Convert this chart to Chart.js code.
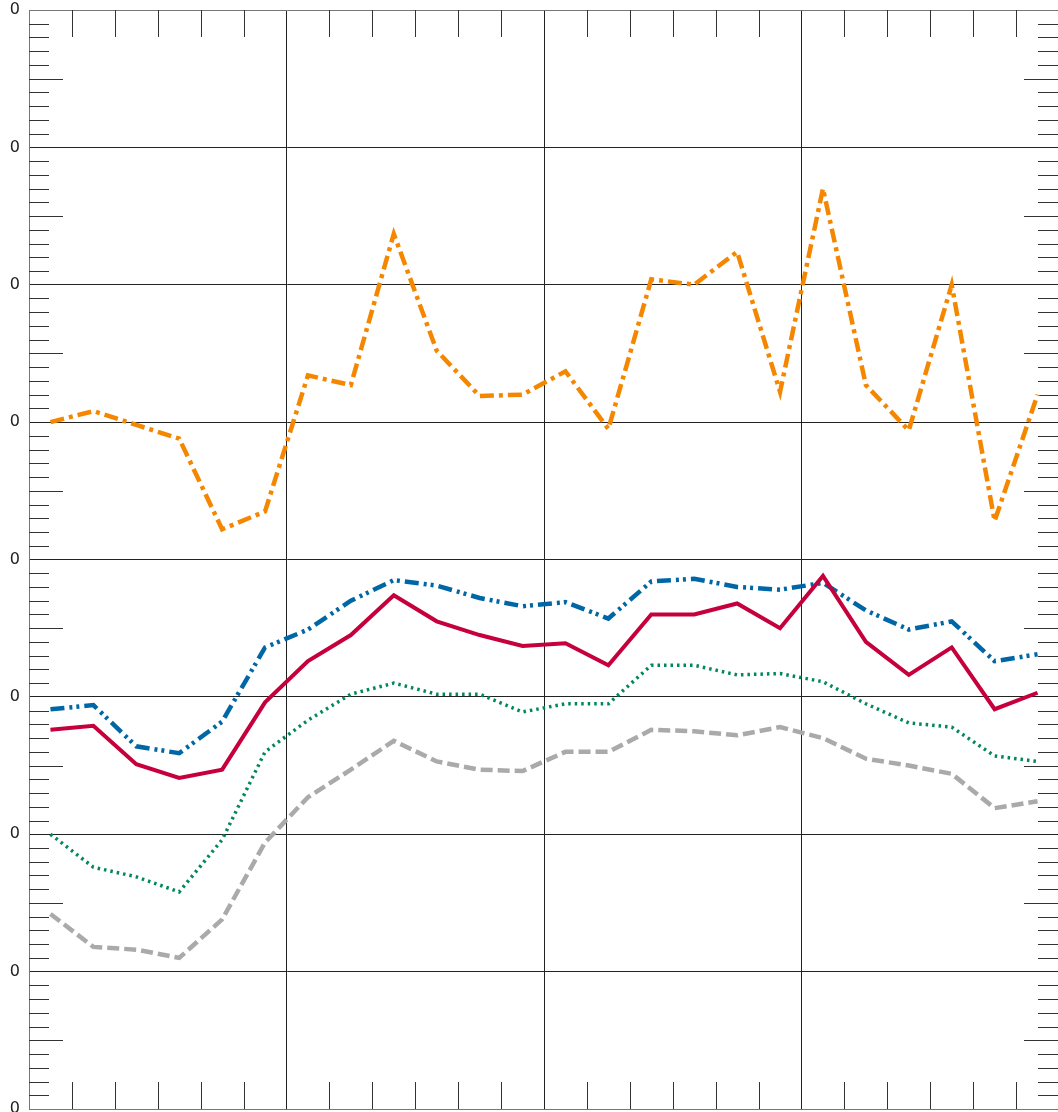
<!DOCTYPE html>
<html>
<head>
<meta charset="utf-8">
<script src="https://cdn.jsdelivr.net/npm/chart.js@4/dist/chart.umd.min.js"></script>
<style>
  html, body { margin: 0; padding: 0; background: #fff; overflow: hidden; }
  canvas { display: block; }
</style>
</head>
<body>
<canvas id="chart" width="1059" height="1112"></canvas>
<script>
// Periods (one point per period, plotted at the middle of its slot)
const periods = [1,2,3,4,5,6,7,8,9,10,11,12,13,14,15,16,17,18,19,20,21,22,23,24];

// Series values
const orangeVals = [50.0,50.8,49.8,48.8,42.2,43.5,53.4,52.7,63.7,55.2,51.9,52.0,
                    53.7,49.5,60.4,60.0,62.4,52.2,67.0,52.7,49.4,60.0,42.8,52.0];
const blueVals   = [29.1,29.4,26.4,25.9,28.2,33.6,34.9,37.0,38.5,38.1,37.2,36.6,
                    36.9,35.7,38.4,38.6,38.0,37.8,38.3,36.3,34.9,35.5,32.6,33.1];
const redVals    = [27.6,27.9,25.1,24.1,24.7,29.6,32.6,34.5,37.4,35.5,34.5,33.7,
                    33.9,32.3,36.0,36.0,36.8,35.0,38.8,34.0,31.6,33.6,29.1,30.3];
const greenVals  = [20.0,17.6,16.9,15.8,19.6,26.0,28.3,30.2,31.0,30.2,30.2,28.9,
                    29.5,29.5,32.3,32.3,31.6,31.7,31.1,29.5,28.1,27.8,25.7,25.3];
const grayVals   = [14.2,11.8,11.6,11.0,13.8,19.4,22.7,24.7,26.8,25.3,24.7,24.6,
                    26.0,26.0,27.6,27.5,27.2,27.8,27.0,25.5,25.0,24.4,21.9,22.4];

// Axis ranges / tick steps
const X_MAX = 24, X_MAJOR = 6;
const Y_MAX = 80, Y_MAJOR = 10, Y_MINOR_PER_MAJOR = 10;

const pts = vals => vals.map((v, i) => ({ x: periods[i] - 0.5, y: v }));

function line(vals, color, width, dash) {
  return {
    data: pts(vals),
    borderColor: color,
    borderWidth: width,
    borderDash: dash,
    borderCapStyle: 'butt',
    borderJoinStyle: 'miter',
    pointRadius: 0,
    tension: 0,
    fill: false,
  };
}

// ── Inward minor ticks on all four sides ─────────────────────
const minorTicks = {
  id: 'minorTicks',
  beforeDatasetsDraw(chart) {
    const { ctx, chartArea: a, scales: { x, y } } = chart;
    ctx.save();
    ctx.strokeStyle = '#333';
    ctx.lineWidth = 1;
    ctx.beginPath();
    const yStep = Y_MAJOR / Y_MINOR_PER_MAJOR;
    for (let i = 1; i < Y_MAX / yStep; i++) {
      if (i % Y_MINOR_PER_MAJOR === 0) continue;
      const py = Math.round(y.getPixelForValue(i * yStep)) + 0.5;
      const len = (i % (Y_MINOR_PER_MAJOR / 2) === 0) ? 34 : 20;
      ctx.moveTo(a.left, py);  ctx.lineTo(a.left + len, py);
      ctx.moveTo(a.right, py); ctx.lineTo(a.right - len - 1, py);
    }
    for (let i = 1; i < X_MAX; i++) {
      if (i % X_MAJOR === 0) continue;
      const px = Math.round(x.getPixelForValue(i)) + 0.5;
      ctx.moveTo(px, a.top);    ctx.lineTo(px, a.top + 27);
      ctx.moveTo(px, a.bottom); ctx.lineTo(px, a.bottom - 27);
    }
    ctx.stroke();
    ctx.restore();
  }
};

new Chart(document.getElementById('chart').getContext('2d'), {
  type: 'line',
  data: {
    datasets: [
      line(redVals,    '#c5003c', 4,   []),
      line(orangeVals, '#f58700', 4.5, [14, 5, 4, 5]),
      line(blueVals,   '#0067a6', 4.5, [14, 5, 3, 4, 3, 5]),
      line(greenVals,  '#00875a', 3.5, [2.5, 4]),
      line(grayVals,   '#aaaaaa', 4.5, [12, 5]),
    ]
  },
  options: {
    responsive: false,
    animation: false,
    layout: { padding: { top: 10, right: 0, bottom: 0, left: 0 } },
    plugins: { legend: { display: false }, tooltip: { enabled: false } },
    scales: {
      x: {
        type: 'linear',
        min: 0, max: X_MAX,
        ticks: { stepSize: X_MAJOR, display: false },
        grid: { color: '#222', lineWidth: 1, drawTicks: false },
        border: { color: '#777', width: 1 },
        afterFit: s => { s.height = 3; s.paddingLeft = 0; s.paddingRight = 0; }
      },
      y: {
        min: 0, max: Y_MAX,
        ticks: {
          stepSize: Y_MAJOR,
          padding: 9,
          color: '#222',
          font: { family: 'DejaVu Sans', size: 16 },
          callback: () => '0'
        },
        grid: {
          color: c => (c.tick && c.tick.value === Y_MAX) ? '#777' : '#222',
          lineWidth: 1,
          drawTicks: false
        },
        border: { color: '#777', width: 1 },
        afterFit: s => { s.width = 29; s.paddingTop = 0; s.paddingBottom = 0; }
      }
    }
  },
  plugins: [minorTicks]
});
</script>
</body>
</html>
